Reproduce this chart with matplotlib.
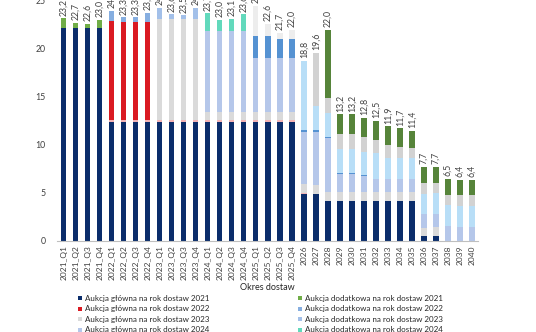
import matplotlib
matplotlib.use('Agg')
import matplotlib.pyplot as plt
from matplotlib.patches import Rectangle
import numpy as np

plt.rcParams['font.family'] = ['Lato', 'DejaVu Sans']

categories = ['2021_Q1', '2021_Q2', '2021_Q3', '2021_Q4',
              '2022_Q1', '2022_Q2', '2022_Q3', '2022_Q4',
              '2023_Q1', '2023_Q2', '2023_Q3', '2023_Q4',
              '2024_Q1', '2024_Q2', '2024_Q3', '2024_Q4',
              '2025_Q1', '2025_Q2', '2025_Q3', '2025_Q4',
              '2026', '2027', '2028', '2029', '2030', '2031', '2032', '2033',
              '2034', '2035', '2036', '2037', '2038', '2039', '2040']

# values in GW
gl_2021 = [22.2, 22.2, 22.2, 22.2, 12.4, 12.4, 12.4, 12.4, 12.4, 12.4, 12.4, 12.4,
           12.4, 12.4, 12.4, 12.4, 12.4, 12.4, 12.4, 12.4, 4.9, 4.9, 4.2, 4.2, 4.2,
           4.2, 4.2, 4.2, 4.2, 4.2, 0.5, 0.55, 0, 0, 0]
dod_2021 = [1.0, 0.5, 0.4, 0.8, 0, 0, 0, 0, 0, 0, 0, 0, 0, 0, 0, 0, 0, 0, 0, 0,
            0, 0, 0, 0, 0, 0, 0, 0, 0, 0, 0, 0, 0, 0, 0]
gl_2022_wiel = [0, 0, 0, 0, 0.2, 0.2, 0.2, 0.2, 0.2, 0.2, 0.2, 0.2, 0.2, 0.2, 0.2, 0.2,
                0.2, 0.2, 0.2, 0.2, 0.1, 0, 0, 0, 0, 0, 0, 0, 0, 0, 0, 0, 0, 0, 0]
gl_2022 = [0, 0, 0, 0, 10.3, 10.2, 10.2, 10.2, 0, 0, 0, 0, 0, 0, 0, 0, 0, 0, 0, 0,
           0, 0, 0, 0, 0, 0, 0, 0, 0, 0, 0, 0, 0, 0, 0]
dod_2022 = [0, 0, 0, 0, 1.1, 0.5, 0.5, 1.0, 0, 0, 0, 0, 0, 0, 0, 0, 0, 0, 0, 0,
            0, 0, 0, 0, 0, 0, 0, 0, 0, 0, 0, 0, 0, 0, 0]
gl_2023 = [0, 0, 0, 0, 0, 0, 0, 0, 10.5, 10.5, 10.5, 10.5, 0.8, 0.8, 0.8, 0.8,
           0.8, 0.8, 0.8, 0.8, 0.9, 0.95, 0.95, 0.9, 0.9, 0.9, 0.9, 0.9, 0.9, 0.9,
           0.9, 0.9, 0, 0, 0]
dod_2023 = [0, 0, 0, 0, 0, 0, 0, 0, 1.2, 0.5, 0.4, 1.2, 0, 0, 0, 0, 0, 0, 0, 0,
            0, 0, 0, 0, 0, 0, 0, 0, 0, 0, 0, 0, 0, 0, 0]
gl_2024 = [0, 0, 0, 0, 0, 0, 0, 0, 0, 0, 0, 0, 8.5, 8.5, 8.5, 8.5,
           5.65, 5.65, 5.65, 5.65, 5.5, 5.55, 5.6, 1.83, 1.83, 1.63, 1.39, 1.39,
           1.39, 1.39, 1.39, 1.37, 1.56, 1.5, 1.5]
dod_2024 = [0, 0, 0, 0, 0, 0, 0, 0, 0, 0, 0, 0, 1.8, 1.1, 1.2, 1.7, 0, 0, 0, 0,
            0, 0, 0, 0, 0, 0, 0, 0, 0, 0, 0, 0, 0, 0, 0]
gl_2025 = [0, 0, 0, 0, 0, 0, 0, 0, 0, 0, 0, 0, 0, 0, 0, 0, 2.3, 2.3, 1.95, 1.95,
           0.12, 0.12, 0.1, 0.12, 0.12, 0.12, 0, 0, 0, 0, 0, 0, 0, 0, 0]
dod_2025 = [0, 0, 0, 0, 0, 0, 0, 0, 0, 0, 0, 0, 0, 0, 0, 0, 3.15, 1.25, 0.7, 1.0,
            0, 0, 0, 0, 0, 0, 0, 0, 0, 0, 0, 0, 0, 0, 0]
gl_2026 = [0, 0, 0, 0, 0, 0, 0, 0, 0, 0, 0, 0, 0, 0, 0, 0, 0, 0, 0, 0,
           7.25, 2.55, 2.53, 2.53, 2.53, 2.45, 2.67, 2.14, 2.14, 2.14, 2.12, 2.17,
           2.19, 2.18, 2.18]
gl_2027 = [0, 0, 0, 0, 0, 0, 0, 0, 0, 0, 0, 0, 0, 0, 0, 0, 0, 0, 0, 0,
           0, 5.5, 1.53, 1.57, 1.57, 1.5, 1.32, 1.33, 1.16, 1.05, 1.1, 1.1,
           1.05, 1.12, 1.12]
gl_2028 = [0, 0, 0, 0, 0, 0, 0, 0, 0, 0, 0, 0, 0, 0, 0, 0, 0, 0, 0, 0,
           0, 0, 7.07, 2.05, 2.05, 2.0, 2.05, 1.97, 1.94, 1.75, 1.7, 1.63,
           1.7, 1.6, 1.6]

totals = [23.2, 22.7, 22.6, 23.0, 24.0, 23.3, 23.3, 23.8, 24.3, 23.6, 23.5, 24.3,
          23.7, 23.0, 23.1, 23.6, 24.5, 22.6, 21.7, 22.0, 18.8, 19.6, 22.0, 13.2,
          13.2, 12.8, 12.5, 11.9, 11.7, 11.4, 7.7, 7.7, 6.5, 6.4, 6.4]

series = [
    (gl_2021, '#0B2D6B', 'Aukcja główna na rok dostaw 2021'),
    (dod_2021, '#70AD47', 'Aukcja dodatkowa na rok dostaw 2021'),
    (gl_2022_wiel, '#F2B3B6', 'Aukcja główna na rok dostaw 2022 (umowy wieloletnie)'),
    (gl_2022, '#DA1A22', 'Aukcja główna na rok dostaw 2022'),
    (dod_2022, '#86AEE0', 'Aukcja dodatkowa na rok dostaw 2022'),
    (gl_2023, '#DADADA', 'Aukcja główna na rok dostaw 2023'),
    (dod_2023, '#A3C0E9', 'Aukcja dodatkowa na rok dostaw 2023'),
    (gl_2024, '#B5C7EA', 'Aukcja główna na rok dostaw 2024'),
    (dod_2024, '#62D9BC', 'Aukcja dodatkowa na rok dostaw 2024'),
    (gl_2025, '#5592D2', 'Aukcja główna na rok dostaw 2025'),
    (dod_2025, '#EDEDED', 'Aukcja dodatkowa na rok dostaw 2025'),
    (gl_2026, '#B8DEF7', 'Aukcja główna na rok dostaw 2026'),
    (gl_2027, '#D2D2D2', 'Aukcja główna na rok dostaw 2027'),
    (gl_2028, '#56843A', 'Aukcja główna na rok dostaw 2028'),
]

W, H = 536, 332
fig = plt.figure(figsize=(W / 100, H / 100), dpi=100)
ax = fig.add_axes([57 / W, 1 - 241 / H, (478 - 57) / W, 240 / H])

x = np.arange(len(categories))
bottom = np.zeros(len(categories))
for vals, col, lab in series:
    v = np.array(vals, dtype=float)
    ax.bar(x, v, bottom=bottom, width=0.42, color=col, label=lab, linewidth=0)
    bottom += v

for xi, top, t in zip(x, bottom, totals):
    ax.annotate(f"{t:.1f}".replace('.', ','), (xi, top), xytext=(0, 2),
                textcoords='offset points', rotation=90, ha='center', va='bottom',
                fontsize=6.3, color='#404040', annotation_clip=False)

ax.set_xlim(-0.58, 34.5)
ax.set_ylim(0, 25)
ax.set_yticks([0, 5, 10, 15, 20, 25])
ax.set_xticks(x)
ax.set_xticklabels(categories, rotation=90, fontsize=6, color='#404040')
ax.tick_params(axis='y', length=0, pad=8, labelsize=6.3, labelcolor='#404040')
ax.tick_params(axis='x', length=0, pad=3)
for s in ['top', 'right', 'left']:
    ax.spines[s].set_visible(False)
ax.spines['bottom'].set_color('#BFBFBF')
ax.spines['bottom'].set_linewidth(0.8)

fig.text(267 / W, 1 - 287 / H, 'Okres dostaw', ha='center', va='center',
         fontsize=6.5, color='#262626')

legend_left = [series[0], series[3], series[5], series[7]]
legend_right = [series[1], series[4], series[6], series[8]]
rows_y = [298.3, 308.8, 319.2, 329.6]
for items, xsq in ((legend_left, 78), (legend_right, 298)):
    for (vals, col, lab), yy in zip(items, rows_y):
        fig.add_artist(Rectangle((xsq / W, 1 - (yy + 2) / H), 4 / W, 4 / H,
                                 transform=fig.transFigure, color=col, linewidth=0))
        fig.text((xsq + 7) / W, 1 - yy / H, lab, ha='left', va='center',
                 fontsize=5.8, color='#262626')

fig.savefig('out.png', dpi=100)
